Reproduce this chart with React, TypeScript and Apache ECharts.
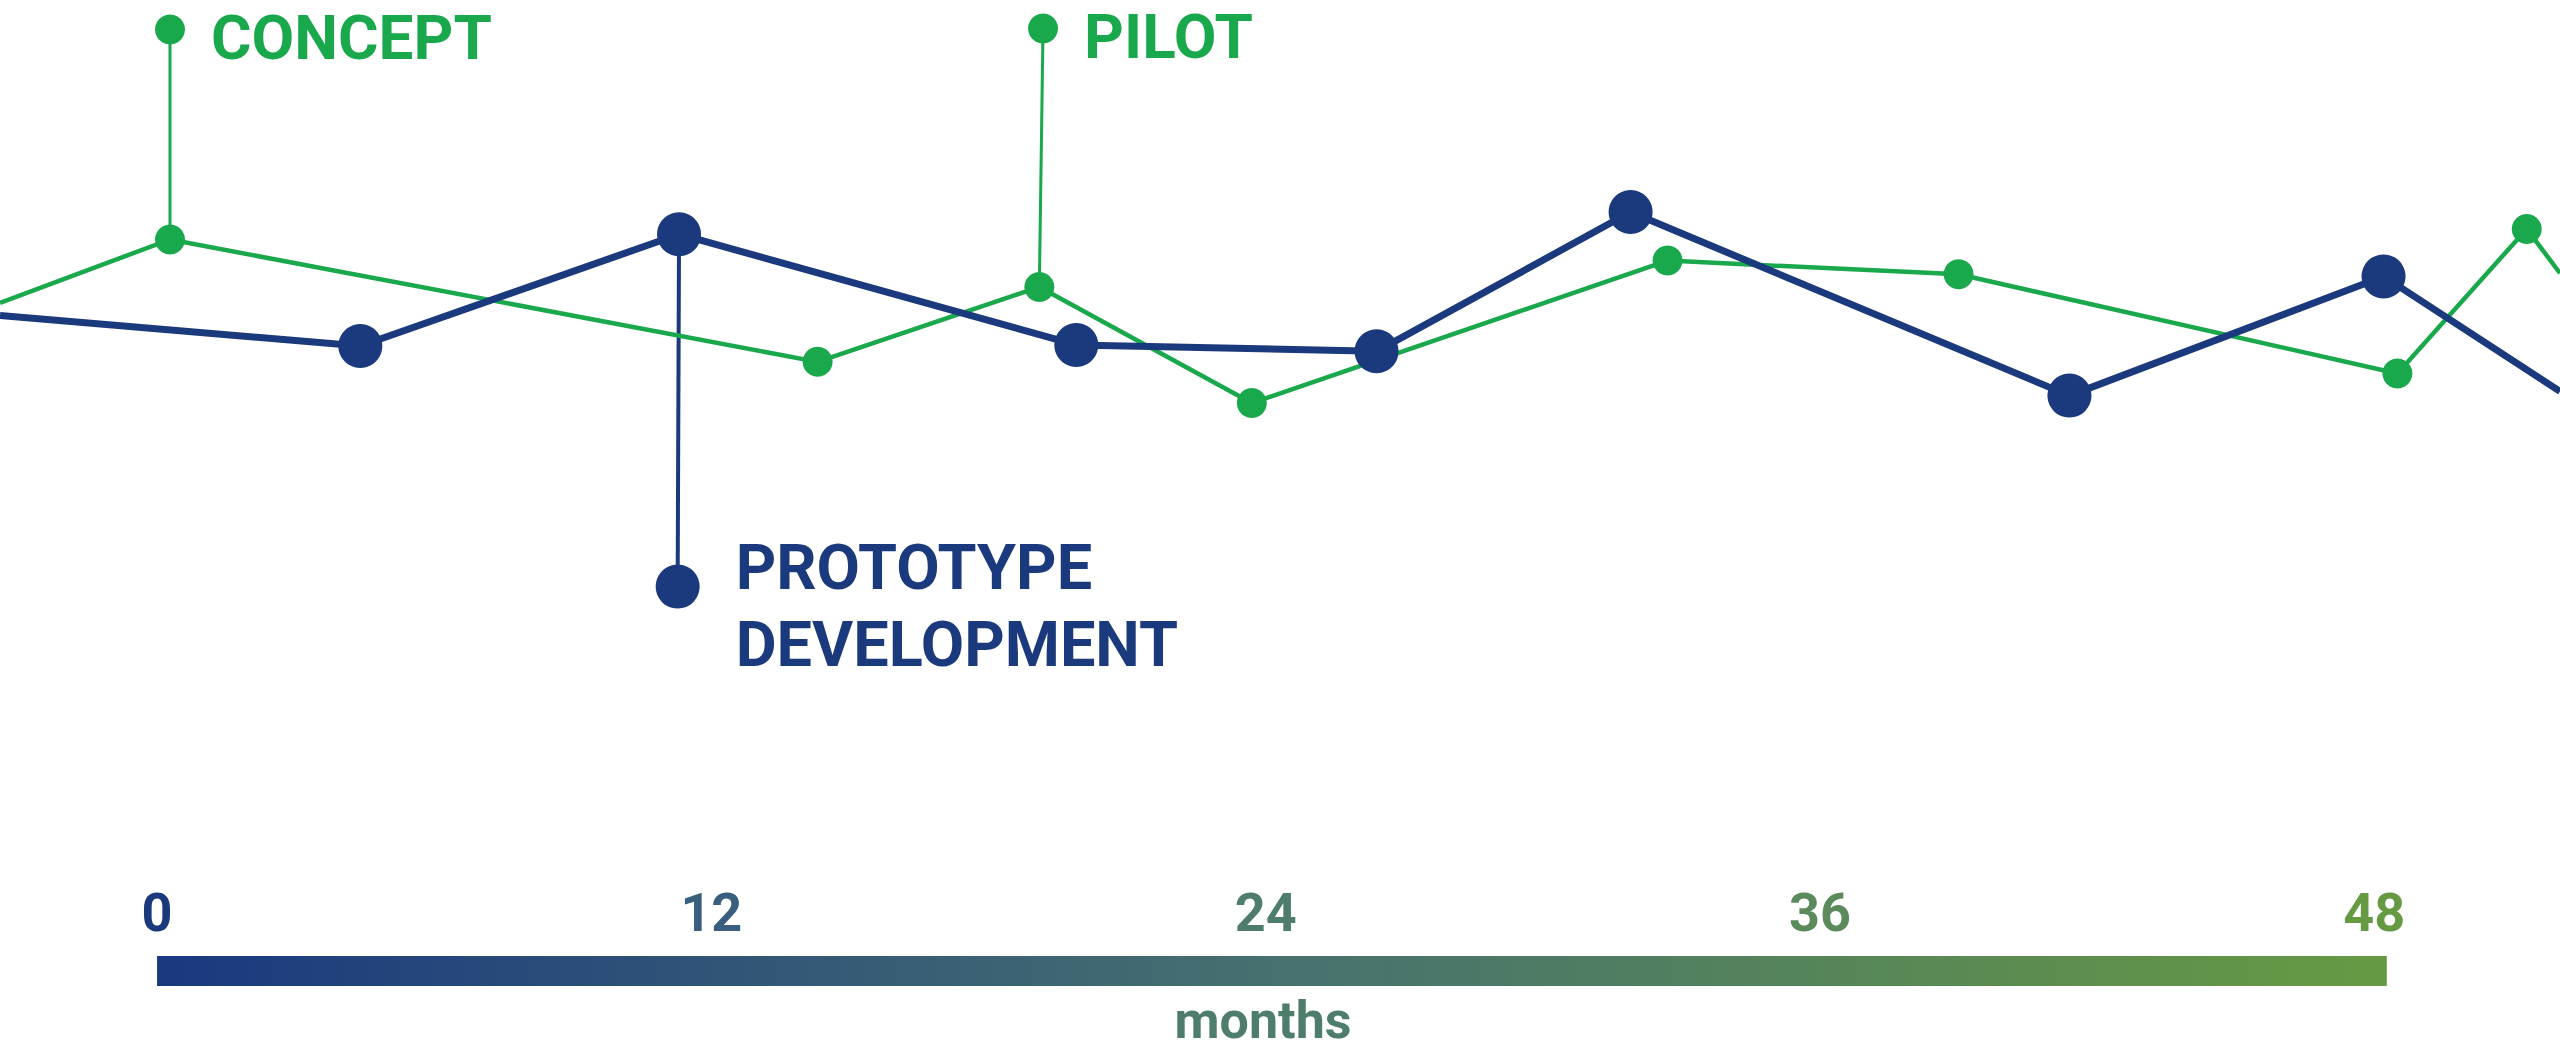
import React, { useEffect, useRef } from 'react';
import * as echarts from 'echarts';

// ---- data ----
const monthTicks = [0, 12, 24, 36, 48];
const tickColors = ['#1b3a7e', '#3a5f7e', '#4f7d6b', '#5b8b5c', '#669a42'];

const blueMonths = [-3.4, 4.4, 11.3, 19.9, 26.4, 31.9, 41.4, 48.2, 52.02];
const blueLevels = [70.1, 67.2, 77.8, 67.3, 66.7, 79.9, 62.5, 73.8, 62.9];

const greenMonths = [-3.4, 0.28, 14.3, 19.1, 23.7, 32.7, 39.0, 48.5, 51.3, 52.02];
const greenLevels = [71.3, 77.3, 65.7, 72.8, 61.8, 75.3, 74.0, 64.6, 78.3, 74.1];

const conceptMonths = [0.28, 0.28];
const conceptLevels = [77.3, 97.2];
const pilotMonths = [19.1, 19.18];
const pilotLevels = [72.8, 97.3];
const protoMonths = [11.3, 11.27];
const protoLevels = [77.8, 44.4];

const barEndMonth = 48.27;
const axisMin = -3.4;
const axisMax = 52.02;

const NAVY = '#1b3a7e';
const GREEN = '#1aa84c';
const FONT = "Roboto, 'Liberation Sans', sans-serif";

function buildLine(xs: number[], ys: number[]) {
  return xs.map((x, i) => {
    const edge = i === 0 || i === xs.length - 1;
    return edge ? { value: [x, ys[i]], symbol: 'none' } : { value: [x, ys[i]] };
  });
}

function buildStick(xs: number[], ys: number[], label: string, color: string, dist: number, offset: number[], size: number, fontSize: number) {
  return [
    { value: [xs[0], ys[0]], symbol: 'none' },
    {
      value: [xs[1], ys[1]],
      symbol: 'circle',
      symbolSize: size,
      label: {
        show: true,
        formatter: label,
        position: 'right',
        distance: dist,
        offset,
        color,
        fontFamily: FONT,
        fontWeight: 'bold',
        fontSize,
        lineHeight: label.indexOf('\n') >= 0 ? 77 : fontSize,
      },
    },
  ];
}

export default function App() {
  const ref = useRef<HTMLDivElement>(null);
  useEffect(() => {
    document.body.style.margin = '0';
    const chart = echarts.init(ref.current!, undefined, { renderer: 'svg' });
    chart.setOption({
      animation: false,
      backgroundColor: '#ffffff',
      grid: [
        { left: 0, right: 0, top: 0, bottom: 0 },
        { left: 0, right: 0, top: 956, height: 30 },
      ],
      xAxis: [
        { type: 'value', gridIndex: 0, min: axisMin, max: axisMax, show: false },
        {
          type: 'value',
          gridIndex: 1,
          min: axisMin,
          max: axisMax,
          position: 'top',
          axisLine: { show: false },
          axisTick: { show: false },
          splitLine: { show: false },
          axisLabel: {
            customValues: monthTicks,
            margin: 17,
            fontFamily: FONT,
            fontWeight: 'bold',
            fontSize: 54,
            color: (val: any) => {
              const i = monthTicks.indexOf(Number(val));
              return tickColors[i < 0 ? 0 : i];
            },
          },
        },
      ],
      yAxis: [
        { type: 'value', gridIndex: 0, min: 0, max: 100, show: false },
        { type: 'category', gridIndex: 1, data: ['months'], show: false },
      ],
      graphic: [
        {
          type: 'text',
          x: 1263,
          y: 1046,
          style: {
            text: 'months',
            textAlign: 'center',
            textVerticalAlign: 'bottom',
            fill: '#4f7d6b',
            font: `bold 52px ${FONT}`,
          },
        },
      ],
      series: [
        {
          type: 'line',
          xAxisIndex: 0,
          yAxisIndex: 0,
          data: buildStick(conceptMonths, conceptLevels, 'CONCEPT', GREEN, 26, [0, 8], 30, 62),
          lineStyle: { color: GREEN, width: 3 },
          itemStyle: { color: GREEN },
          z: 1,
        },
        {
          type: 'line',
          xAxisIndex: 0,
          yAxisIndex: 0,
          data: buildStick(pilotMonths, pilotLevels, 'PILOT', GREEN, 26, [0, 8], 30, 62),
          lineStyle: { color: GREEN, width: 3 },
          itemStyle: { color: GREEN },
          z: 1,
        },
        {
          type: 'line',
          xAxisIndex: 0,
          yAxisIndex: 0,
          data: buildStick(protoMonths, protoLevels, 'PROTOTYPE\nDEVELOPMENT', NAVY, 36, [0, 19], 44, 63),
          lineStyle: { color: NAVY, width: 4 },
          itemStyle: { color: NAVY },
          z: 1,
        },
        {
          type: 'line',
          xAxisIndex: 0,
          yAxisIndex: 0,
          data: buildLine(greenMonths, greenLevels),
          symbol: 'circle',
          symbolSize: 30,
          lineStyle: { color: GREEN, width: 4.5 },
          itemStyle: { color: GREEN },
          z: 2,
        },
        {
          type: 'line',
          xAxisIndex: 0,
          yAxisIndex: 0,
          data: buildLine(blueMonths, blueLevels),
          symbol: 'circle',
          symbolSize: 44,
          lineStyle: { color: NAVY, width: 7 },
          itemStyle: { color: NAVY },
          z: 3,
        },
        {
          type: 'bar',
          xAxisIndex: 1,
          yAxisIndex: 1,
          data: [barEndMonth],
          barWidth: 30,
          itemStyle: {
            color: new echarts.graphic.LinearGradient(0, 0, 1, 0, [
              { offset: 0, color: '#1a387f' },
              { offset: 0.5, color: '#477070' },
              { offset: 1, color: '#669a42' },
            ]),
          },
        },
      ],
    });
    return () => chart.dispose();
  }, []);
  return <div ref={ref} style={{ position: 'fixed', left: 0, top: 0, width: '2560px', height: '1055px' }} />;
}
